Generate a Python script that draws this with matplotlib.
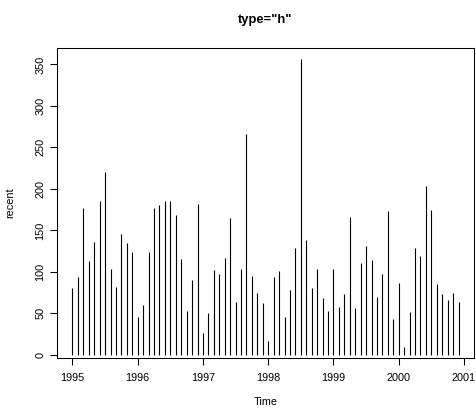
import numpy as np
import matplotlib
matplotlib.use("Agg")
import matplotlib.pyplot as plt

plt.rcParams['font.family'] = ['Liberation Sans', 'DejaVu Sans']

# monthly series starting Jan 1995
start_year = 1995
freq = 12
recent = [81, 94, 177, 113, 136, 186, 220, 103, 82, 146, 135, 124,
          45, 60, 124, 177, 180, 186, 186, 168, 116, 53, 90, 182,
          26, 50, 102, 97, 117, 165, 64, 103, 266, 95, 74, 63,
          17, 94, 101, 46, 78, 129, 356, 139, 81, 103, 69, 53,
          104, 58, 73, 166, 56, 111, 131, 114, 70, 97, 173, 43,
          87, 10, 52, 129, 119, 204, 174, 85, 73, 66, 75, 64]
xticks = [1995, 1996, 1997, 1998, 1999, 2000, 2001]
yticks = [0, 50, 100, 150, 200, 250, 300, 350]

t = start_year + np.arange(len(recent)) / freq
y = np.array(recent, dtype=float)

fig = plt.figure(figsize=(4.76, 4.09), dpi=100)
ax = fig.add_axes([57/476, 1 - 358/409, (474-57)/476, (358-48)/409])

ax.vlines(t, 0, y, color='black', linewidth=0.8)

# R style 4% axis extension
dx = (t.max() - t.min()) * 0.04
dy = (y.max() - y.min()) * 0.04
ax.set_xlim(t.min() - dx, t.max() + dx)
ax.set_ylim(y.min() - dy, y.max() + dy)

ax.set_xticks(xticks)
ax.set_yticks(yticks)
ax.tick_params(axis='both', length=5, width=0.75, labelsize=7.8, direction='out')
ax.tick_params(axis='x', pad=6)
ax.tick_params(axis='y', pad=3.5)
for lab in ax.get_yticklabels():
    lab.set_rotation(90)
    lab.set_va('center')

for s in ax.spines.values():
    s.set_linewidth(0.75)
    s.set_color('black')

fig.text(265.5/476, 1 - 20/409, 'type="h"', ha='center', va='center',
         fontsize=9.4, fontweight='bold')
fig.text(265.5/476, 1 - 402/409, 'Time', ha='center', va='center', fontsize=7.8)
fig.text(10/476, 1 - 203/409, 'recent', ha='center', va='center', rotation=90, fontsize=7.8)

fig.savefig('out.png', dpi=100)
